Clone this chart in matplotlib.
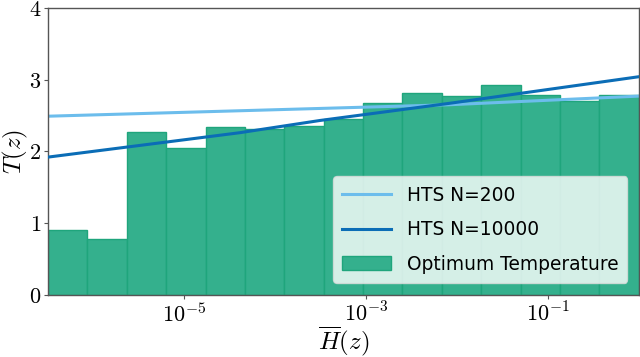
import numpy as np
import matplotlib
matplotlib.use("Agg")
import matplotlib.pyplot as plt

plt.rcParams['mathtext.fontset'] = 'cm'
plt.rcParams['font.family'] = ['DejaVu Sans']

# Histogram bins (log10 of H) and optimum temperature per bin
bin_edges_log10 = np.linspace(-6.5, 0.0, 16)
opt_temp = [0.91, 0.78, 2.27, 2.04, 2.34, 2.31, 2.35, 2.45,
            2.67, 2.81, 2.77, 2.93, 2.79, 2.70, 2.79]

# HTS fit curves (log10 H, T)
hts200_log10x = [-6.5, -4.28, -2.08, 0.0]
hts200_T = [2.49, 2.57, 2.65, 2.77]
hts10000_log10x = [-6.5, -4.39, -3.51, -2.08, 0.0]
hts10000_T = [1.92, 2.26, 2.43, 2.67, 3.04]

fig = plt.figure(figsize=(6.4, 3.57), dpi=100)
ax = fig.add_axes([0.075, 0.174, 0.923, 0.804])

edges = 10.0 ** bin_edges_log10
widths = np.diff(edges)
bars = ax.bar(edges[:-1], opt_temp, width=widths, align='edge',
              color='#34b08d', edgecolor='#1fa57c', linewidth=1.0,
              label='Optimum Temperature', zorder=1)

l200, = ax.plot(10.0 ** np.array(hts200_log10x), hts200_T, color='#6cbdec',
                linewidth=2.2, label='HTS N=200', zorder=2)
l10k, = ax.plot(10.0 ** np.array(hts10000_log10x), hts10000_T, color='#0b6db6',
                linewidth=2.2, label='HTS N=10000', zorder=3)

ax.set_xscale('log')
ax.set_xlim(10 ** -6.5, 1.0)
ax.set_ylim(0, 4)
ax.set_xticks([1e-5, 1e-3, 1e-1])
ax.set_xticklabels([r'$10^{-5}$', r'$10^{-3}$', r'$10^{-1}$'])
ax.xaxis.set_minor_locator(matplotlib.ticker.NullLocator())
ax.set_yticks([0, 1, 2, 3, 4])
ax.set_yticklabels([r'$0$', r'$1$', r'$2$', r'$3$', r'$4$'])
ax.tick_params(axis='both', labelsize=16, length=3, width=0.8,
               color='#555555', pad=2)

for s in ax.spines.values():
    s.set_color('#555555')
    s.set_linewidth(1.0)

ax.set_xlabel(r'$\overline{H}(z)$', fontsize=18, labelpad=-1)
ax.set_ylabel(r'$T(z)$', fontsize=18, labelpad=-1)

leg = ax.legend([l200, l10k, bars],
                ['HTS N=200', 'HTS N=10000', 'Optimum Temperature'],
                loc='lower right', fontsize=13.4, frameon=True,
                framealpha=0.8, borderpad=0.5, handlelength=2.6,
                handletextpad=0.85, labelspacing=0.83, borderaxespad=0,
                bbox_to_anchor=(0.981, 0.042))
leg.get_frame().set_edgecolor('#dddddd')

fig.savefig('out.png', dpi=100)
